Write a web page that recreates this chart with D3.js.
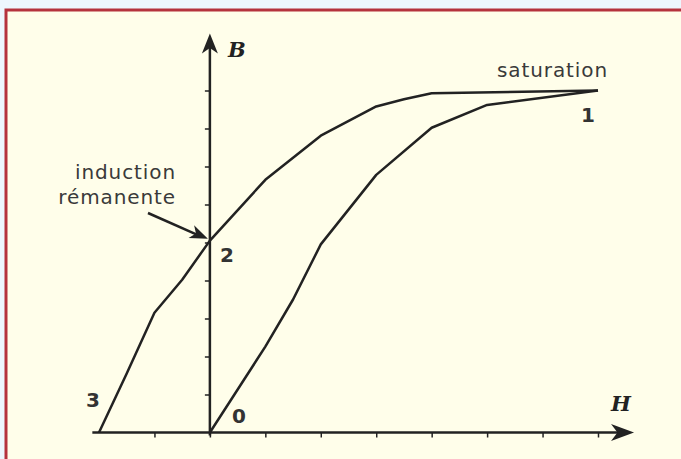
<!DOCTYPE html>
<html lang="fr">
  <head>
    <meta charset="UTF-8" />
    <title>Cycle d'hystérésis</title>
    <script src="https://d3js.org/d3.v7.min.js"></script>
    <style>
      body {
        margin: 0;
        background: #edf6fd;
      }
      .lbl {
        font-family: 'DejaVu Sans', sans-serif;
        font-size: 20px;
        letter-spacing: 0.9px;
        fill: #3a3a3a;
      }
      .num {
        font-family: 'DejaVu Sans', sans-serif;
        font-size: 20px;
        font-weight: bold;
        fill: #333;
      }
      .axname {
        font-family: 'DejaVu Serif', serif;
        font-size: 21px;
        font-weight: bold;
        font-style: italic;
        fill: #222;
      }
    </style>
  </head>
  <body>
    <div id="chart"></div>
    <script>
      // courbe de première aimantation (0 -> 1)
      const firstH = [0, 1, 1.5, 2, 3, 4, 5, 7]
      const firstB = [0, 2.26, 3.5, 4.95, 6.78, 8.02, 8.62, 9]

      // branche descendante (1 -> 2 -> 3)
      const descH = [7, 4, 3.5, 3, 2, 1, 0, -0.5, -1, -1.5, -2]
      const descB = [9, 8.93, 8.77, 8.58, 7.81, 6.65, 5.05, 4.02, 3.15, 1.55, 0]

      const hTicks = [-1, 0, 1, 2, 3, 4, 5, 6, 7]
      const bTicks = [1, 2, 3, 4, 5, 6, 7, 8, 9]

      const width = 681
      const height = 459

      const svg = d3
        .select('#chart')
        .append('svg')
        .attr('width', width)
        .attr('height', height)

      // cadre
      svg
        .append('rect')
        .attr('x', 6)
        .attr('y', 10)
        .attr('width', 700)
        .attr('height', 480)
        .attr('fill', '#fffeea')
        .attr('stroke', '#b5323d')
        .attr('stroke-width', 3)

      const x = d3.scaleLinear().domain([-2, 7]).range([99, 598])
      const y = d3.scaleLinear().domain([0, 9]).range([432.5, 90.5])

      const ink = '#222'

      // axe H
      svg
        .append('g')
        .attr('transform', `translate(0,${y(0)})`)
        .call(d3.axisBottom(x).tickValues(hTicks).tickSize(5).tickFormat(''))
        .call(g => g.select('.domain').remove())
        .call(g => g.selectAll('line').attr('stroke', ink).attr('stroke-width', 1.5))

      // axe B
      svg
        .append('g')
        .attr('transform', `translate(${x(0)},0)`)
        .call(d3.axisLeft(y).tickValues(bTicks).tickSize(5).tickFormat(''))
        .call(g => g.select('.domain').remove())
        .call(g => g.selectAll('line').attr('stroke', ink).attr('stroke-width', 1.5))

      svg
        .append('line')
        .attr('x1', x(-2.12))
        .attr('x2', x(7.5))
        .attr('y1', y(0))
        .attr('y2', y(0))
        .attr('stroke', ink)
        .attr('stroke-width', 2.5)

      svg
        .append('line')
        .attr('x1', x(0))
        .attr('x2', x(0))
        .attr('y1', y(-0.08))
        .attr('y2', y(10.2))
        .attr('stroke', ink)
        .attr('stroke-width', 2.5)

      // pointes de flèche
      function arrowHead(tx, ty, angle, len, half) {
        const p = [
          [0, 0],
          [-len, -half],
          [-len * 0.72, 0],
          [-len, half],
        ]
        const c = Math.cos(angle)
        const s = Math.sin(angle)
        const pts = p.map(([a, b]) => [tx + a * c - b * s, ty + a * s + b * c])
        svg
          .append('path')
          .attr('d', 'M' + pts.map(q => q.join(',')).join('L') + 'Z')
          .attr('fill', ink)
      }
      arrowHead(x(7.65), y(0), 0, 23, 8.5)
      arrowHead(x(0), y(10.5), -Math.PI / 2, 20, 8)

      const line = d3
        .line()
        .x(d => x(d[0]))
        .y(d => y(d[1]))

      svg
        .append('path')
        .datum(d3.zip(firstH, firstB))
        .attr('d', line)
        .attr('fill', 'none')
        .attr('stroke', ink)
        .attr('stroke-width', 2.5)
        .attr('stroke-linejoin', 'round')

      svg
        .append('path')
        .datum(d3.zip(descH, descB))
        .attr('d', line)
        .attr('fill', 'none')
        .attr('stroke', ink)
        .attr('stroke-width', 2.5)
        .attr('stroke-linejoin', 'round')

      // flèche "induction rémanente"
      const ax1 = 148
      const ay1 = 213
      const ax2 = x(0) - 2
      const ay2 = y(5.1)
      svg
        .append('line')
        .attr('x1', ax1)
        .attr('y1', ay1)
        .attr('x2', ax2 - 11)
        .attr('y2', ay2 - 4)
        .attr('stroke', ink)
        .attr('stroke-width', 2.5)
      arrowHead(ax2, ay2, Math.atan2(ay2 - ay1, ax2 - ax1), 18, 7)

      // textes
      svg.append('text').attr('class', 'axname').attr('x', 228).attr('y', 57).text('B')
      svg.append('text').attr('class', 'axname').attr('x', 611).attr('y', 411).text('H')

      svg.append('text').attr('class', 'lbl').attr('x', 176).attr('y', 179).attr('text-anchor', 'end').text('induction')
      svg.append('text').attr('class', 'lbl').attr('x', 176).attr('y', 204).attr('text-anchor', 'end').text('rémanente')
      svg.append('text').attr('class', 'lbl').attr('x', 497).attr('y', 77).text('saturation')

      svg.append('text').attr('class', 'num').attr('x', 588).attr('y', 122).attr('text-anchor', 'middle').text('1')
      svg.append('text').attr('class', 'num').attr('x', 227).attr('y', 262).attr('text-anchor', 'middle').text('2')
      svg.append('text').attr('class', 'num').attr('x', 93).attr('y', 407).attr('text-anchor', 'middle').text('3')
      svg.append('text').attr('class', 'num').attr('x', 239).attr('y', 423).attr('text-anchor', 'middle').text('0')
    </script>
  </body>
</html>
